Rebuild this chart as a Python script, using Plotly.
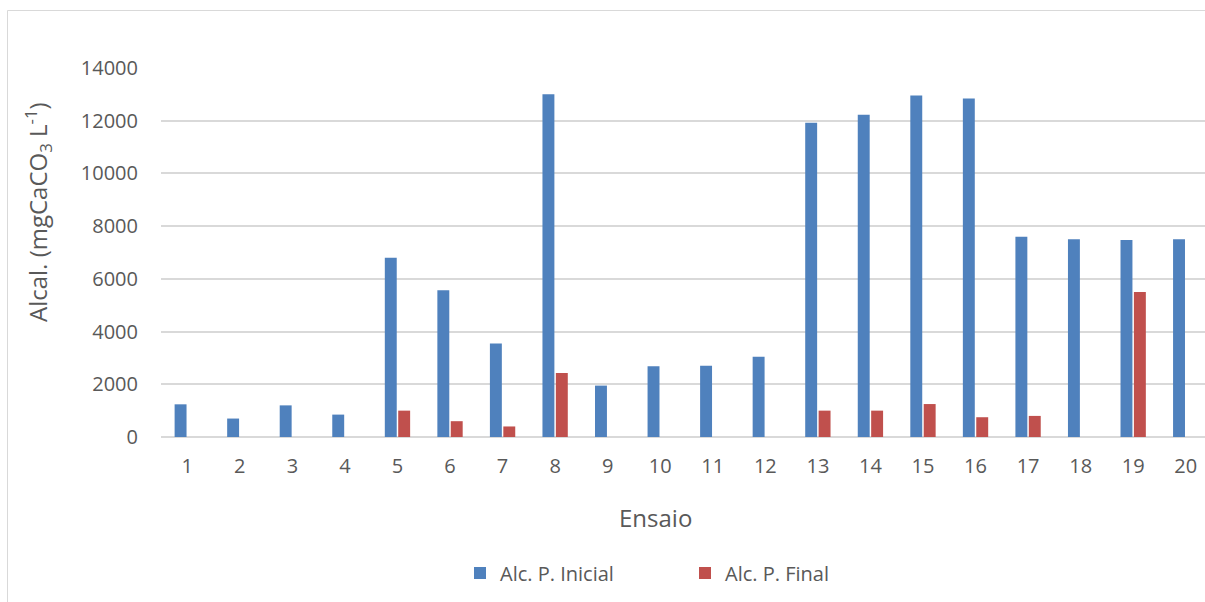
import plotly.graph_objects as go

# Ensaio numbers and alkalinity measurements (mg CaCO3 / L)
ensaios = list(range(1, 21))
alc_inicial = [1240, 700, 1200, 850, 6800, 5570, 3550, 13000, 1950, 2680,
               2700, 3040, 11920, 12230, 12960, 12840, 7600, 7500, 7470, 7500]
alc_final = [0, 0, 0, 0, 1000, 600, 400, 2430, 0, 0,
             0, 0, 1000, 1000, 1250, 750, 800, 0, 5500, 0]
y_ticks = [0, 2000, 4000, 6000, 8000, 10000, 12000, 14000]

BLUE = "#4F81BD"
RED = "#C0504D"
GRID = "#D9D9D9"
TEXT = "#595959"
FONT = "Open Sans"

fig = go.Figure()
fig.add_trace(go.Bar(x=ensaios, y=alc_inicial, name="Alc. P. Inicial",
                     marker=dict(color=BLUE, line=dict(width=0))))
fig.add_trace(go.Bar(x=ensaios, y=alc_final, name="Alc. P. Final",
                     marker=dict(color=RED, line=dict(width=0))))

W, H = 1205, 602
L, T, B = 161, 68, 165
pw = W - L
ph = H - T - B

fig.update_layout(
    width=W, height=H,
    margin=dict(l=L, r=0, t=T, b=B, pad=0),
    paper_bgcolor="white", plot_bgcolor="white",
    barmode="group", bargap=0.49, bargroupgap=0.11,
    font=dict(family=FONT, color=TEXT, size=18),
    showlegend=True,
    legend=dict(orientation="h", x=(460 - L) / pw, xanchor="left",
                y=(H - B - 573) / ph, yanchor="middle",
                font=dict(size=20, color=TEXT, family=FONT),
                entrywidth=180, entrywidthmode="pixels",
                itemwidth=30, bgcolor="rgba(0,0,0,0)"),
)

fig.update_xaxes(
    range=[0.5, 0.5 + pw / 52.55], tickmode="array", tickvals=ensaios,
    ticktext=[str(e) for e in ensaios], showgrid=False, zeroline=False,
    showline=False, ticks="", ticklabelstandoff=15,
    tickfont=dict(size=20, color=TEXT, family=FONT), fixedrange=True,
)
fig.update_yaxes(
    range=[0, 14000], tickmode="array", tickvals=y_ticks,
    ticktext=[str(v) for v in y_ticks], showgrid=True, gridcolor=GRID,
    gridwidth=1.5, zeroline=True, zerolinecolor=GRID, zerolinewidth=1.5,
    showline=False, ticks="", ticklabelstandoff=22,
    tickfont=dict(size=20, color=TEXT, family=FONT), fixedrange=True,
)

# Axis titles
fig.add_annotation(text="Alcal. (mgCaCO<sub>3</sub> L<sup>-1</sup>)",
                   xref="paper", yref="paper",
                   x=(38 - L) / pw, y=(H - B - 212) / ph,
                   xanchor="center", yanchor="middle",
                   textangle=-90, showarrow=False,
                   font=dict(size=24, color=TEXT, family=FONT))
fig.add_annotation(text="Ensaio", xref="paper", yref="paper",
                   x=(655 - L) / pw, y=(H - B - 517) / ph,
                   xanchor="center", yanchor="middle",
                   showarrow=False,
                   font=dict(size=24, color=TEXT, family=FONT))

# Chart frame
fig.add_shape(type="rect", xref="paper", yref="paper",
              x0=(7.5 - L) / pw, x1=1.05,
              y0=(H - B - 620) / ph, y1=(H - B - 10.5) / ph,
              line=dict(color=GRID, width=1), layer="below")

fig.write_html("out.html")
